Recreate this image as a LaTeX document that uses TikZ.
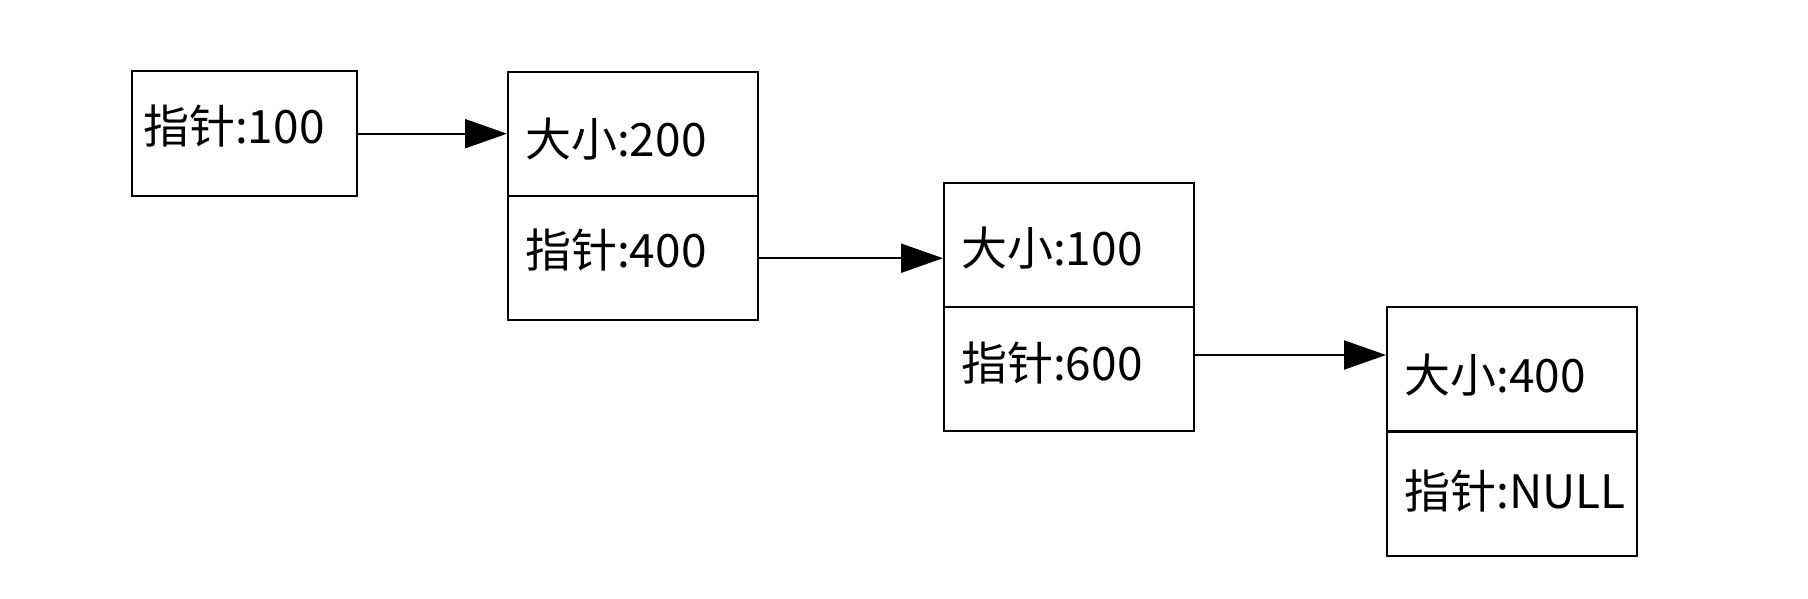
\documentclass[tikz,border=0pt]{standalone}
\usepackage{fontspec}
\setmainfont{Noto Sans CJK SC}
\usetikzlibrary{arrows.meta}
\newcommand\shiftup[2]{\raisebox{#1}[\height][\depth]{#2}}
\begin{document}
\begin{tikzpicture}[x=1pt,y=-1pt,
  cell/.style={draw, line width=2.4pt, minimum width=250pt, minimum height=124pt,
    text width=216pt, inner xsep=17pt, inner ysep=0pt, align=left, anchor=north west,
    font=\fontsize{46}{52}\selectfont},
  arrowline/.style={line width=2pt, -{Triangle[length=42pt,width=29pt]}}]
\useasboundingbox (0,0) rectangle (1808,598);
\node[cell, minimum width=225pt, minimum height=125pt, text width=203pt, inner xsep=11pt] (b1) at (131,70) {\shiftup{8pt}{指针:100}};
\node[cell] (b2s) at (507,71) {\shiftup{-5pt}{大小:200}};
\node[cell] (b2p) at (507,195) {\shiftup{8pt}{指针:400}};
\node[cell] (b3s) at (943,182) {\shiftup{-3pt}{大小:100}};
\node[cell] (b3p) at (943,306) {\shiftup{6pt}{指针:600}};
\node[cell] (b4s) at (1386,306) {\shiftup{-6pt}{大小:400}};
\node[cell] (b4p) at (1386,431) {\shiftup{3pt}{指针:NULL}};
\coordinate (a3) at (1193,355);
\draw[arrowline] (b1.east) -- (b1.east -| b2s.west);
\draw[arrowline] (b2p.east) -- (b2p.east -| b3s.west);
\draw[arrowline] (a3) -- (a3 -| b4s.west);
\end{tikzpicture}
\end{document}
